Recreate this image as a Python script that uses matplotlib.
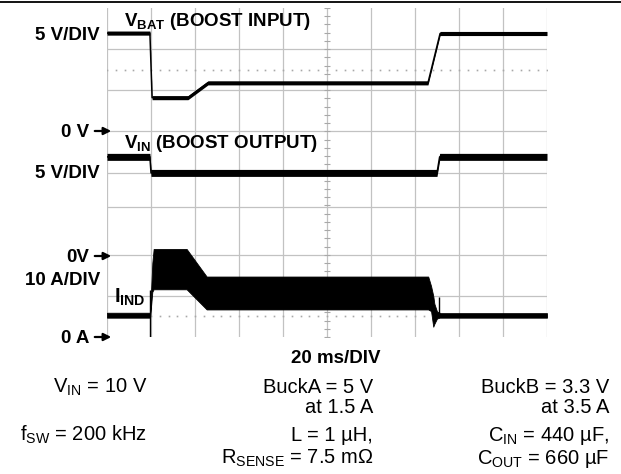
import numpy as np
import matplotlib
matplotlib.use('Agg')
import matplotlib.pyplot as plt
from matplotlib.lines import Line2D

plt.rcParams['font.family'] = 'Liberation Sans'
plt.rcParams['mathtext.fontset'] = 'custom'
plt.rcParams['mathtext.rm'] = 'Liberation Sans'
plt.rcParams['mathtext.bf'] = 'Liberation Sans:bold'
plt.rcParams['mathtext.it'] = 'Liberation Sans:italic'

# scope screen: 20 ms/div x 10 div, 8 vertical divisions
time_grid = np.arange(0, 201, 20)

# V_BAT (boost input), 5 V/div, 0 V marker at div 5
vbat_t = [0, 19.5, 20.5, 36.8, 45.9, 145.9, 151.4, 200]
vbat_v = [11.95, 11.95, 4.1, 4.1, 5.9, 5.9, 11.9, 11.9]
vbat_noise = 0.5    # V p-p

# V_IN (boost output), 5 V/div, 0 V marker at div 2
vin_t = [0, 19.5, 20.0, 150.0, 151.2, 200]
vin_v = [11.9, 11.9, 9.95, 9.95, 11.9, 11.9]
vin_noise = 0.85    # V p-p

# I_IND, 10 A/div, 0 A marker at div 0 -> ripple envelope
ind_t = [0, 19.5, 19.6, 20.6, 21.2, 36.2, 45.3, 146.0, 147.3, 148.3, 148.8, 150.0, 151.2, 151.6, 200]
ind_hi = [5.9, 5.9, 6.0, 18.0, 21.4, 21.4, 14.7, 14.7, 12.4, 10.0, 8.1, 6.2, 5.9, 5.8, 5.8]
ind_lo = [4.7, 4.7, 4.9, 11.0, 11.6, 11.6, 6.7, 6.7, 6.3, 2.5, 3.2, 4.5, 4.7, 4.7, 4.7]
# single-sample spikes at the two transitions
spike_t = [19.6, 151.0]
spike_lo = [0.0, 5.8]
spike_hi = [11.5, 9.8]

W, H = 621, 474


def fx(x):
    return x / W


def fy(y):
    return 1 - y / H


fig = plt.figure(figsize=(W / 100, H / 100), dpi=100)
ax = fig.add_axes([fx(107), fy(337), (547 - 107) / W, (337 - 8) / H])
ax.set_xlim(0, 200)
ax.set_ylim(0, 8)
ax.axis('off')

gc = '#c2c2c2'
for t in time_grid:
    ax.axvline(t, color=gc, lw=0.9, zorder=1)
for d in [1, 2, 3.16, 4, 5, 6, 7]:
    ax.axhline(d, color=gc, lw=0.9, zorder=1)
for d in [0.5, 6.5]:
    xs = np.arange(0, 200.1, 4)
    ax.plot(xs, [d] * len(xs), ls='none', marker='s', ms=1.2, mew=0, color='#a8a8a8', zorder=1)
ys = np.arange(0, 8.01, 0.2)
ax.plot([100] * len(ys), ys, ls='none', marker='_', ms=4, mew=0.8, color='#a8a8a8', zorder=1)


def trace(t, vals, offset, scale, noise):
    y = offset + np.asarray(vals) / scale
    h = noise / 2 / scale
    ax.fill_between(t, y - h, y + h, color='k', lw=0, zorder=3)
    ax.plot(t, y, color='k', lw=1.1, zorder=3)


trace(vbat_t, vbat_v, 5, 5, vbat_noise)
trace(vin_t, vin_v, 2, 5, vin_noise)

ax.fill_between(ind_t, np.array(ind_lo) / 10, np.array(ind_hi) / 10,
                facecolor='k', edgecolor='k', lw=0.6, zorder=3)
ax.vlines(spike_t, np.array(spike_lo) / 10, np.array(spike_hi) / 10, color='k', lw=1.0, zorder=3)

# top rule
fig.add_artist(Line2D([0, 1], [fy(2.3)] * 2, transform=fig.transFigure, color='k', lw=1.3))

# channel labels
bs = 13.5
lab = dict(fontsize=bs, fontweight='bold', va='baseline')
fig.text(fx(100), fy(40), '5 V/DIV', ha='right', **lab)
fig.text(fx(124), fy(26), r'$\mathbf{V}_{\mathbf{BAT}}$ (BOOST INPUT)', ha='left', **lab)
fig.text(fx(89), fy(137), '0 V', ha='right', **lab)
fig.text(fx(124), fy(148), r'$\mathbf{V}_{\mathbf{IN}}$ (BOOST OUTPUT)', ha='left', **lab)
fig.text(fx(100), fy(178), '5 V/DIV', ha='right', **lab)
fig.text(fx(89), fy(262), '0V', ha='right', **lab)
fig.text(fx(100), fy(285), '10 A/DIV', ha='right', **lab)
fig.text(fx(114), fy(303), r'$\mathbf{I}_{\mathbf{IND}}$', ha='left', va='baseline',
         fontsize=14.5, fontweight='bold')
fig.text(fx(89), fy(343), '0 A', ha='right', **lab)

for y in [131, 256, 337]:
    fig.add_artist(matplotlib.patches.FancyArrowPatch(
        (fx(92), fy(y)), (fx(114), fy(y)), transform=fig.transFigure,
        arrowstyle='-|>', mutation_scale=11, color='k', lw=1.6))

fig.text(fx(336), fy(363), '20 ms/DIV', ha='center', **lab)

# test conditions
rs = 14.5
cond = dict(fontsize=rs, va='baseline', ha='right')
fig.text(fx(147), fy(393), r'V$_{\mathrm{IN}}$ = 10 V', **cond)
fig.text(fx(147), fy(441), r'f$_{\mathrm{SW}}$ = 200 kHz', **cond)
fig.text(fx(373), fy(393), 'BuckA = 5 V', **cond)
fig.text(fx(373), fy(413), 'at 1.5 A', **cond)
fig.text(fx(373), fy(441), 'L = 1 µH,', **cond)
fig.text(fx(373), fy(464), r'R$_{\mathrm{SENSE}}$ = 7.5 mΩ', **cond)
fig.text(fx(609), fy(393), 'BuckB = 3.3 V', **cond)
fig.text(fx(609), fy(413), 'at 3.5 A', **cond)
fig.text(fx(609), fy(441), r'C$_{\mathrm{IN}}$ = 440 µF,', **cond)
fig.text(fx(609), fy(464), r'C$_{\mathrm{OUT}}$ = 660 µF', **cond)

fig.savefig('out.png', dpi=100)
